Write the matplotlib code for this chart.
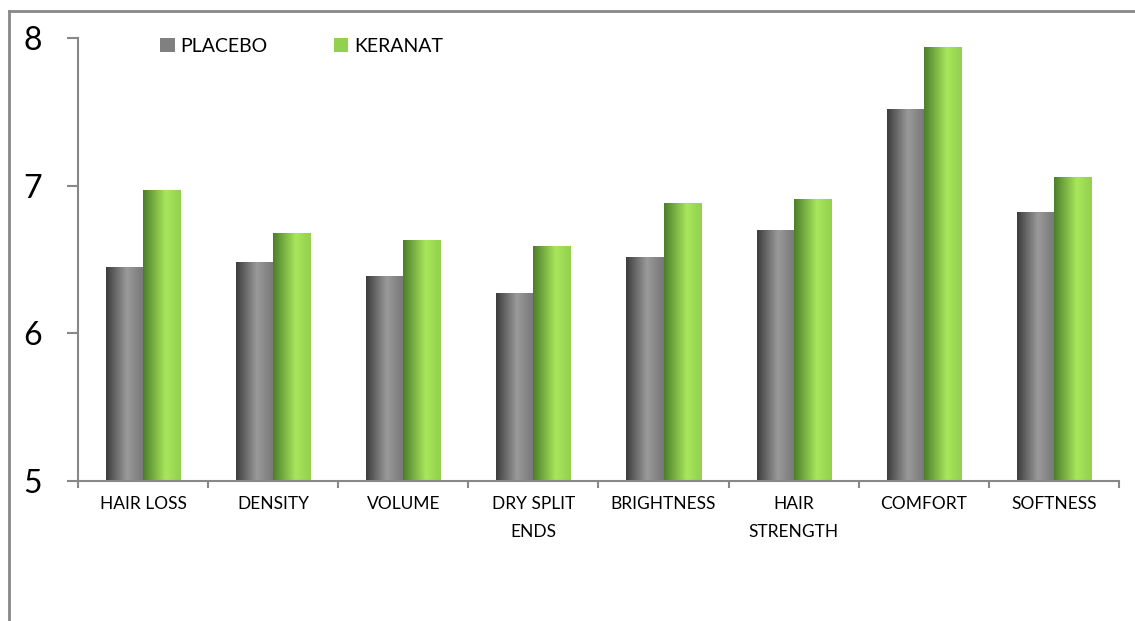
import numpy as np
import matplotlib
matplotlib.use("Agg")
import matplotlib.pyplot as plt
from matplotlib.colors import LinearSegmentedColormap
from matplotlib.patches import Patch
from matplotlib.lines import Line2D

plt.rcParams['font.family'] = ['Lato', 'DejaVu Sans']

categories = ["HAIR LOSS", "DENSITY", "VOLUME", "DRY SPLIT\nENDS", "BRIGHTNESS",
              "HAIR\nSTRENGTH", "COMFORT", "SOFTNESS"]
placebo = [6.45, 6.48, 6.39, 6.27, 6.52, 6.70, 7.52, 6.82]
keranat = [6.97, 6.68, 6.63, 6.59, 6.88, 6.91, 7.94, 7.06]

# dark edge -> highlight -> slightly darker right edge (cylinder look)
gray_cmap = LinearSegmentedColormap.from_list(
    "g", [(0, "#3c3c3c"), (0.55, "#9a9a9a"), (1, "#767676")])
green_cmap = LinearSegmentedColormap.from_list(
    "k", [(0, "#4c7e2a"), (0.6, "#a8e65c"), (1, "#92d04e")])

fig = plt.figure(figsize=(11.35, 6.21), dpi=100)
ax = fig.add_axes([0.0687, 0.2254, 0.9172, 0.7134])

x = np.arange(len(categories))
w = 0.285
grad = np.linspace(0, 1, 256).reshape(1, -1)


def shaded_bars(xpos, vals, cmap):
    bars = ax.bar(xpos, np.array(vals) - 5, w, bottom=5, color="none", edgecolor="none")
    for b in bars:
        x0, y0 = b.get_x(), b.get_y()
        im = ax.imshow(grad, cmap=cmap, aspect="auto",
                       extent=[x0, x0 + b.get_width(), y0, y0 + b.get_height()],
                       zorder=2)
        im.set_clip_path(b)
    return bars


shaded_bars(x - w / 2, placebo, gray_cmap)
shaded_bars(x + w / 2, keranat, green_cmap)

ax.set_xlim(-0.5, len(categories) - 0.5)
ax.set_ylim(5, 8)
ax.set_yticks([5, 6, 7, 8])
ax.tick_params(axis="y", labelsize=23, length=8, width=1.5, color="#888888", pad=18)
ax.set_xticks(x)
ax.set_xticklabels(categories, fontsize=12.5, linespacing=1.9)
ax.tick_params(axis="x", which="major", length=0, pad=11)
ax.set_xticks(np.arange(-0.5, len(categories)), minor=True)
ax.tick_params(axis="x", which="minor", length=5, width=1.5, color="#888888")

for s in ["top", "right"]:
    ax.spines[s].set_visible(False)
for s in ["left", "bottom"]:
    ax.spines[s].set_color("#888888")
    ax.spines[s].set_linewidth(1.5)

handles = [Patch(facecolor="#808080", label="PLACEBO"),
           Patch(facecolor="#92d050", label="KERANAT")]
ax.legend(handles=handles, loc="upper left", bbox_to_anchor=(0.062, 1.04), ncol=2,
          frameon=False, fontsize=14, handlelength=0.75, handleheight=0.75,
          handletextpad=0.3, columnspacing=3.4)

# outer chart frame (left and top edges visible)
fig.add_artist(Line2D([0.008, 0.008], [0, 0.982], color="#888888", lw=2))
fig.add_artist(Line2D([0.008, 1.0], [0.982, 0.982], color="#888888", lw=2))

fig.savefig("out.png", dpi=100)
